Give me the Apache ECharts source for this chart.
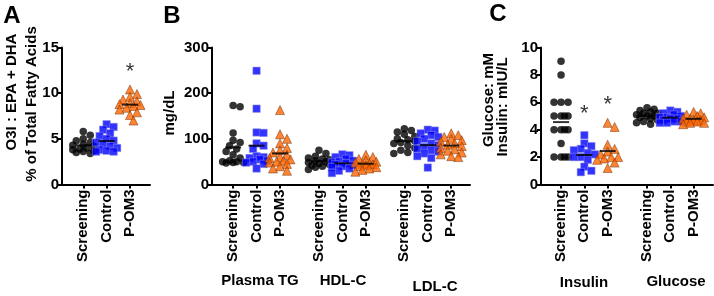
<!DOCTYPE html>
<html>
<head>
<meta charset="utf-8">
<script src="https://cdn.jsdelivr.net/npm/echarts@6/dist/echarts.min.js"></script>
<style>
  html, body { margin: 0; padding: 0; background: #fff; }
  #chart { width: 714px; height: 296px; }
</style>
</head>
<body>
<div id="chart"></div>
<script>
const groups = ["Screening", "Control", "P-OM3"];

// Panel A: O3I (% of total fatty acids)
const o3iScreening = [5.8, 5.4, 5.0, 4.8, 4.6, 4.4, 4.3, 4.2, 4.0, 3.9, 3.8, 3.7, 3.6, 3.5, 3.4];
const o3iControl = [6.6, 6.3, 6.0, 5.6, 5.3, 5.0, 4.8, 4.6, 4.4, 4.2, 4.0, 3.8, 3.7, 3.6, 3.6];
const o3iPom3 = [10.4, 9.9, 9.6, 9.3, 9.1, 8.9, 8.8, 8.7, 8.6, 8.4, 8.2, 7.9, 7.6, 7.0];

// Panel B: lipids (mg/dL)
const tgScreening = [173, 170, 113, 97, 92, 85, 78, 72, 65, 58, 52, 50, 50, 48, 48, 47];
const tgControl = [249, 166, 114, 113, 90, 85, 78, 62, 60, 58, 55, 52, 50, 48, 45, 35];
const tgPom3 = [163, 110, 100, 90, 80, 75, 70, 65, 60, 58, 55, 52, 50, 48, 45, 40, 35, 30];
const hdlScreening = [75, 68, 62, 58, 56, 54, 52, 50, 48, 46, 44, 42, 40, 38, 33];
const hdlControl = [66, 64, 60, 56, 52, 50, 48, 46, 44, 42, 40, 38, 35, 30, 25];
const hdlPom3 = [65, 60, 56, 53, 50, 48, 46, 45, 44, 42, 40, 38, 35, 32, 28];
const ldlScreening = [122, 118, 115, 110, 105, 100, 98, 95, 92, 90, 85, 80, 75, 70, 68];
const ldlControl = [120, 118, 112, 108, 104, 100, 95, 90, 86, 82, 78, 75, 72, 68, 62, 58, 37];
const ldlPom3 = [112, 108, 104, 100, 97, 94, 90, 87, 84, 80, 77, 74, 70, 66, 62, 60];

// Panel C: insulin (mIU/L) and glucose (mM)
const insScreening = [9, 8, 6, 6, 6, 5, 5, 5, 5, 4, 4, 4, 4, 3, 2, 2, 2, 2];
const insControl = [3.6, 3.0, 2.8, 2.6, 2.5, 2.3, 2.2, 2.0, 2.0, 1.8, 1.3, 1.0, 0.9];
const insPom3 = [4.5, 4.2, 2.9, 2.6, 2.4, 2.2, 2.0, 2.0, 1.9, 1.8, 1.6, 1.2];
const gluScreening = [5.6, 5.5, 5.4, 5.3, 5.2, 5.2, 5.1, 5.0, 5.0, 4.9, 4.8, 4.7, 4.6, 4.5, 4.4];
const gluControl = [5.4, 5.3, 5.2, 5.1, 5.0, 4.9, 4.9, 4.8, 4.8, 4.7, 4.6, 4.6, 4.5, 4.5];
const gluPom3 = [5.3, 5.2, 5.1, 5.0, 4.9, 4.8, 4.8, 4.7, 4.7, 4.6, 4.6, 4.5, 4.5, 4.4];

// significance marks: [group slot index, y value]
const starsA = [[2, 12.9]];
const starsC = [[1, 5.5], [2, 6.15]];

const yTicksA = [0, 15, 5];
const yTicksB = [0, 300, 100];
const yTicksC = [0, 10, 2];

// layout
const slotsA = [0, 1, 2];
const slotsB = [0, 1, 2, 3.66, 4.66, 5.66, 7.3, 8.3, 9.3];
const slotsC = [0, 1, 2, 3.69, 4.69, 5.69];
const colors = ["#000000", "#0000ff", "#ff6600"];
const symbols = ["circle", "rect", "triangle"];
const symSizes = [7.5, 7.5, 9];
const FONT = "Liberation Sans";

// simple beeswarm so points of equal value sit side by side
function swarm(values, pxPerY, pxPerX) {
  const order = values.map((v, i) => i).sort((a, b) => values[b] - values[a]);
  const placed = [];
  const offs = new Array(values.length);
  const cands = [0, 3.5, -3.5, 7, -7, 10.5, -10.5];
  const minD = 6.5;
  order.forEach(i => {
    const y = values[i] * pxPerY;
    let best = 0, bestD = -1;
    for (const c of cands) {
      let dmin = Infinity;
      placed.forEach(p => {
        const d = Math.hypot(p[0] - c, p[1] - y);
        if (d < dmin) dmin = d;
      });
      if (dmin >= minD) { best = c; break; }
      if (dmin > bestD) { bestD = dmin; best = c; }
    }
    placed.push([best, y]);
    offs[i] = best / pxPerX;
  });
  return offs;
}

const series = [];

function addPanel(idx, sets, slots, pxPerY, pxPerX) {
  sets.forEach((vals, k) => {
    const g = k % 3;
    const offs = swarm(vals, pxPerY, pxPerX);
    series.push({
      type: "scatter",
      xAxisIndex: idx, yAxisIndex: idx,
      symbol: symbols[g],
      symbolSize: symSizes[g],
      itemStyle: {
        color: colors[g],
        borderColor: g === 2 ? "#6b2a00" : (g === 1 ? "#9a9adf" : "#000"),
        borderWidth: g === 0 ? 0 : 0.6
      },
      data: vals.map((v, i) => [slots[k] + offs[i], v])
    });
    const mean = vals.reduce((a, b) => a + b, 0) / vals.length;
    series.push({
      type: "scatter",
      xAxisIndex: idx, yAxisIndex: idx,
      symbol: "rect",
      symbolSize: [16, 2],
      itemStyle: { color: "#000" },
      data: [[slots[k], mean]],
      z: 3
    });
  });
}

function addStars(idx, stars) {
  series.push({
    type: "scatter",
    xAxisIndex: idx, yAxisIndex: idx,
    symbol: "circle",
    symbolSize: 1,
    itemStyle: { color: "rgba(0,0,0,0)" },
    label: {
      show: true, position: "inside", formatter: "*",
      color: "#000", fontSize: 22, fontFamily: FONT, offset: [0, 5]
    },
    data: stars,
    z: 3
  });
}

addPanel(0, [o3iScreening, o3iControl, o3iPom3], slotsA, 137 / 15, 23.36);
addPanel(1, [tgScreening, tgControl, tgPom3, hdlScreening, hdlControl, hdlPom3,
  ldlScreening, ldlControl, ldlPom3], slotsB, 137 / 300, 23.45);
addPanel(2, [insScreening, insControl, insPom3, gluScreening, gluControl, gluPom3],
  slotsC, 137 / 10, 23.3);
addStars(0, starsA);
addStars(2, starsC);

function yAxis(idx, t) {
  return {
    type: "value", gridIndex: idx, min: t[0], max: t[1], interval: t[2],
    splitLine: { show: false },
    axisLine: { show: true, onZero: false, lineStyle: { color: "#000", width: 2 } },
    axisTick: { show: true, length: 4, lineStyle: { color: "#000", width: 2 } },
    axisLabel: { color: "#000", fontSize: 15, fontWeight: "bold", fontFamily: FONT, margin: 3 }
  };
}

function xAxis(idx, min, max, slots) {
  return {
    type: "value", gridIndex: idx, min: min, max: max, z: 10,
    splitLine: { show: false },
    axisLine: { show: true, onZero: false, lineStyle: { color: "#000", width: 2 } },
    axisTick: { show: true, length: 4, lineStyle: { color: "#000", width: 2 }, customValues: slots },
    axisLabel: {
      customValues: slots, rotate: 90, margin: 5,
      color: "#000", fontSize: 15, fontWeight: "bold", fontFamily: FONT,
      formatter: v => {
        let best = 0;
        slots.forEach((s, i) => { if (Math.abs(s - v) < Math.abs(slots[best] - v)) best = i; });
        return groups[best % 3];
      }
    }
  };
}

function txt(text, x, y, size, rot) {
  return {
    type: "text", x: x, y: y, rotation: rot || 0, silent: true,
    style: {
      text: text, fill: "#000", fontSize: size, fontWeight: "bold", fontFamily: FONT,
      textAlign: "center", textVerticalAlign: "middle", align: "center", verticalAlign: "middle"
    }
  };
}

const chart = echarts.init(document.getElementById("chart"));
chart.setOption({
  animation: false,
  grid: [
    { left: 62, top: 47.5, width: 88, height: 137 },
    { left: 212, top: 47.5, width: 258, height: 137 },
    { left: 541, top: 47.5, width: 172, height: 137 }
  ],
  xAxis: [
    xAxis(0, -0.91, 2.857, slotsA),
    xAxis(1, -0.9, 10.1, slotsB),
    xAxis(2, -0.86, 6.52, slotsC)
  ],
  yAxis: [yAxis(0, yTicksA), yAxis(1, yTicksB), yAxis(2, yTicksC)],
  series: series,
  graphic: [
    txt("A", 12, 16, 24),
    txt("B", 172, 16, 24),
    txt("C", 498, 14, 24),
    txt("O3I : EPA + DHA", 12, 92, 15, Math.PI / 2),
    txt("% of Total Fatty Acids", 32, 104, 15, Math.PI / 2),
    txt("mg/dL", 170, 113, 15, Math.PI / 2),
    txt("Glucose: mM", 489, 100, 15, Math.PI / 2),
    txt("Insulin: mIU/L", 503, 107, 15, Math.PI / 2),
    txt("Plasma TG", 260, 281, 15),
    txt("HDL-C", 343, 281, 15),
    txt("LDL-C", 435, 287, 15),
    txt("Insulin", 584, 283, 15),
    txt("Glucose", 676, 282, 15)
  ]
});
</script>
</body>
</html>
